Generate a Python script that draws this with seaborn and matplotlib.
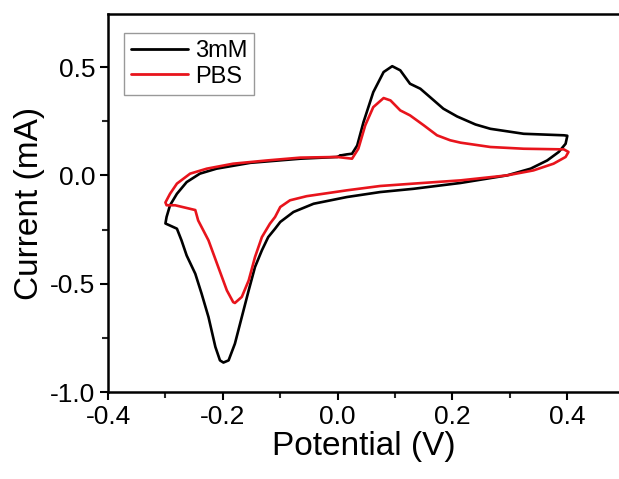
import pandas as pd
import matplotlib.pyplot as plt
import seaborn as sns

# 3mM cyclic voltammogram (potential V, current mA), traced as a closed loop
v_3mm = [0.005, 0.016, 0.025, 0.034, 0.045, 0.062, 0.080, 0.095, 0.109, 0.126, 0.144, 0.161,
         0.184, 0.208, 0.240, 0.266, 0.324, 0.394, 0.400, 0.397, 0.385, 0.365, 0.336, 0.295,
         0.214, 0.132, 0.074, 0.016, -0.042, -0.077, -0.100, -0.109, -0.121, -0.132, -0.144,
         -0.155, -0.167, -0.179, -0.190, -0.199, -0.205, -0.213, -0.225, -0.237, -0.248, -0.263,
         -0.272, -0.280, -0.300, -0.298, -0.292, -0.280, -0.263, -0.240, -0.211, -0.152, -0.065,
         -0.001, 0.005]
i_3mm = [0.092, 0.097, 0.100, 0.138, 0.246, 0.384, 0.477, 0.504, 0.485, 0.423, 0.400, 0.361,
         0.308, 0.272, 0.235, 0.215, 0.192, 0.185, 0.183, 0.146, 0.108, 0.069, 0.031, 0.000,
         -0.035, -0.062, -0.077, -0.100, -0.131, -0.169, -0.215, -0.246, -0.285, -0.346, -0.423,
         -0.531, -0.654, -0.777, -0.854, -0.864, -0.854, -0.792, -0.654, -0.546, -0.454, -0.370,
         -0.300, -0.246, -0.222, -0.192, -0.138, -0.085, -0.031, 0.008, 0.031, 0.058, 0.077,
         0.085, 0.092]

# PBS cyclic voltammogram
v_pbs = [-0.001, 0.025, 0.036, 0.048, 0.062, 0.080, 0.092, 0.109, 0.126, 0.150, 0.173, 0.196,
         0.214, 0.266, 0.324, 0.394, 0.402, 0.397, 0.376, 0.341, 0.295, 0.214, 0.132, 0.074,
         0.016, -0.054, -0.083, -0.100, -0.109, -0.118, -0.132, -0.144, -0.155, -0.167, -0.179,
         -0.182, -0.193, -0.208, -0.225, -0.243, -0.248, -0.283, -0.298, -0.300, -0.292, -0.280,
         -0.257, -0.228, -0.182, -0.123, -0.065, -0.001]
i_pbs = [0.085, 0.077, 0.123, 0.231, 0.315, 0.357, 0.346, 0.300, 0.277, 0.231, 0.185, 0.162,
         0.151, 0.131, 0.123, 0.120, 0.108, 0.085, 0.054, 0.023, 0.000, -0.023, -0.038, -0.049,
         -0.069, -0.096, -0.115, -0.146, -0.192, -0.223, -0.285, -0.377, -0.485, -0.561, -0.589,
         -0.585, -0.531, -0.423, -0.300, -0.208, -0.160, -0.138, -0.138, -0.125, -0.085, -0.038,
         0.008, 0.031, 0.054, 0.069, 0.082, 0.085]

df = pd.concat([
    pd.DataFrame({'Potential': v_3mm, 'Current': i_3mm, 'Sample': '3mM'}),
    pd.DataFrame({'Potential': v_pbs, 'Current': i_pbs, 'Sample': 'PBS'}),
], ignore_index=True)

sns.set_style('ticks')
plt.rcParams['font.family'] = ['Liberation Sans', 'DejaVu Sans']
plt.rcParams['text.color'] = 'black'
plt.rcParams['axes.labelcolor'] = 'black'

fig = plt.figure(figsize=(6.19, 4.79), dpi=100)
ax = fig.add_axes([0.1745, 0.1816, 0.8255, 0.7892])
sns.lineplot(data=df, x='Potential', y='Current', hue='Sample', palette=['black', '#e8141c'],
             sort=False, estimator=None, linewidth=1.9, ax=ax,
             solid_joinstyle='round', solid_capstyle='round')

ax.set_xlim(-0.4, 0.49)
ax.set_ylim(-1.0, 0.745)
ax.set_xticks([-0.4, -0.2, 0.0, 0.2, 0.4])
ax.set_yticks([-1.0, -0.5, 0.0, 0.5])
ax.set_xticks([-0.3, -0.1, 0.1, 0.3], minor=True)
ax.set_yticks([-0.75, -0.25, 0.25], minor=True)
ax.tick_params(which='major', direction='out', length=6, width=1.5, labelsize=19, colors='black', pad=3)
ax.tick_params(which='minor', direction='out', length=4, width=1.5)
ax.set_xticklabels(['-0.4', '-0.2', '0.0', '0.2', '0.4'])
ax.set_yticklabels(['-1.0', '-0.5', '0.0', '0.5'])
for s in ['left', 'bottom', 'top']:
    ax.spines[s].set_linewidth(1.8)
    ax.spines[s].set_color('black')
ax.spines['right'].set_visible(False)

ax.set_xlabel('Potential (V)', fontsize=24, labelpad=2)
ax.set_ylabel('Current (mA)', fontsize=24, labelpad=4)

leg = ax.legend(loc='upper left', bbox_to_anchor=(0.031, 0.95), fontsize=17, fancybox=False,
                handlelength=2.4, handletextpad=0.3, borderpad=0.3, labelspacing=0.15,
                borderaxespad=0, edgecolor='#999999', framealpha=1)
leg.get_frame().set_linewidth(1.0)
for line in leg.get_lines():
    line.set_linewidth(2.0)

fig.savefig('out.png', dpi=100)
